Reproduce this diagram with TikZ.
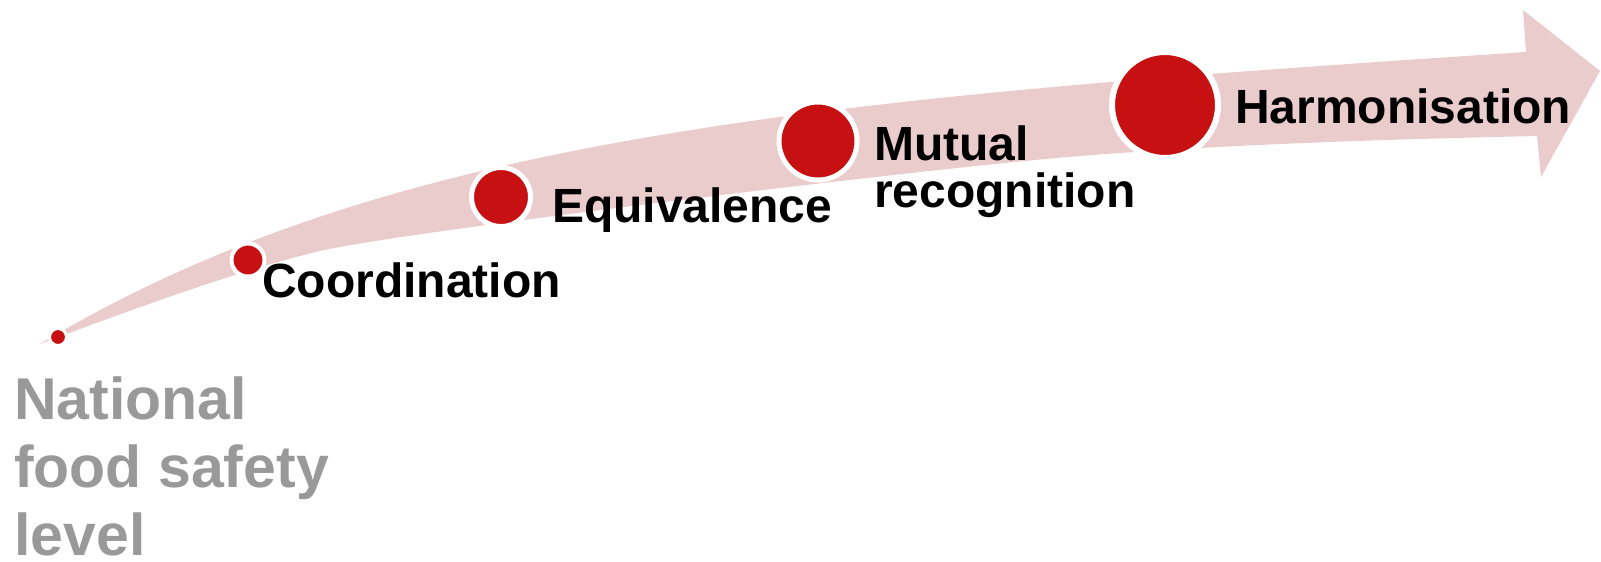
\documentclass[tikz,border=0pt]{standalone}
\usepackage{fontspec}
\setmainfont{Liberation Sans}
\definecolor{bandpink}{RGB}{235,204,205}
\definecolor{dotred}{RGB}{198,16,18}
\definecolor{textgray}{RGB}{153,153,153}

\begin{document}
\begin{tikzpicture}[x=1pt,y=-1pt,
	dot/.style={circle, fill=dotred, draw=white, line width=5pt, inner sep=0pt},
	stagetext/.style={anchor=base west, inner sep=0pt, align=left, font=\bfseries\fontsize{48}{47}\selectfont}]
	\useasboundingbox (0,0) rectangle (1601,562);

	% the widening band with its head
	\fill[bandpink] (40,344) .. controls (390,134) and (826,98) .. (1526,52)
		-- (1523,10) -- (1600,71) -- (1541,177) -- (1537,136)
		.. controls (1400,139) and (1230,144) .. (1080,156)
		.. controls (930,168) and (400,232) .. (320,251)
		.. controls (240,270) and (130,310) .. (40,344) -- cycle;

	\node[dot, line width=3pt, minimum size=17pt] (d0) at (58,337) {};
	\node[dot, line width=4pt, minimum size=33pt] (d1) at (248,260) {};
	\node[dot, minimum size=59pt] (d2) at (501,197) {};
	\node[dot, minimum size=78pt] (d3) at (818,141) {};
	\node[dot, line width=6pt, minimum size=106pt] (d4) at (1165,105) {};

	% base of a two-line node is its last line
	\node[stagetext] (coordination) at (262,297) {Coordination};
	\node[stagetext] (equivalence) at (552,222) {Equivalence};
	\node[stagetext] (mutual) at (874,207) {Mutual\\recognition};
	\node[stagetext] (harmonisation) at (1235,123) {Harmonisation};
	\node[stagetext, text=textgray, font=\bfseries\fontsize{59}{68}\selectfont] (national) at (14,555) {National\\food safety\\level};

\end{tikzpicture}
\end{document}
